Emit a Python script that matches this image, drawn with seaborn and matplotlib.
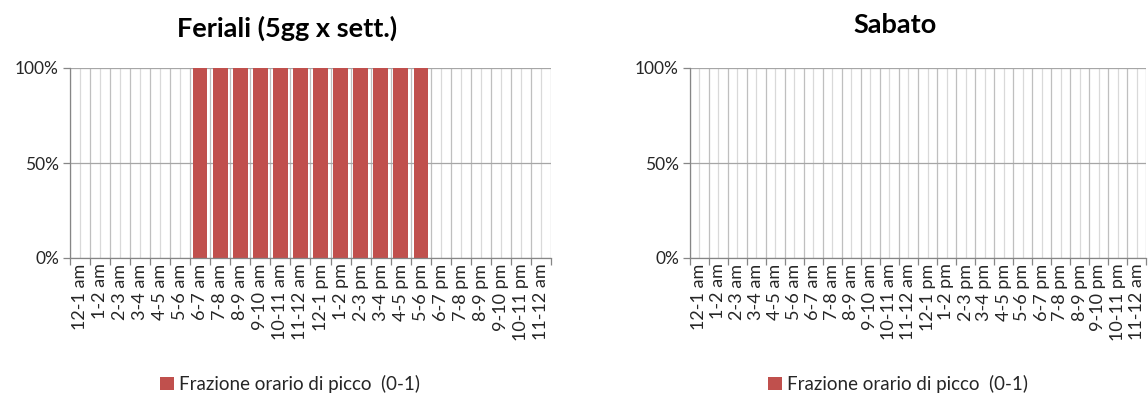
import matplotlib
matplotlib.use("Agg")
import matplotlib.pyplot as plt
from matplotlib.ticker import FixedLocator, PercentFormatter
from matplotlib.patches import Patch
import seaborn as sns
import pandas as pd

# Hourly time slots
hours = ["12-1 am", "1-2 am", "2-3 am", "3-4 am", "4-5 am", "5-6 am",
         "6-7 am", "7-8 am", "8-9 am", "9-10 am", "10-11 am", "11-12 am",
         "12-1 pm", "1-2 pm", "2-3 pm", "3-4 pm", "4-5 pm", "5-6 pm",
         "6-7 pm", "7-8 pm", "8-9 pm", "9-10 pm", "10-11 pm", "11-12 am"]

# Peak-hour fraction (0-1) per slot
feriali = [0, 0, 0, 0, 0, 0,
           1, 1, 1, 1, 1, 1,
           1, 1, 1, 1, 1, 1,
           0, 0, 0, 0, 0, 0]
sabato = [0] * 24

titles = ["Feriali (5gg x sett.)", "Sabato"]
series_name = "Frazione orario di picco  (0-1)"
bar_color = "#C0504D"

sns.set_theme(style="white")
plt.rcParams["font.family"] = ["Lato", "DejaVu Sans"]

fig = plt.figure(figsize=(11.48, 3.96), dpi=100)
axes = [fig.add_axes([70 / 1148, 138 / 396, 481 / 1148, 190 / 396]),
        fig.add_axes([690 / 1148, 138 / 396, 456 / 1148, 190 / 396])]

for ax, values in zip(axes, [feriali, sabato]):
    df = pd.DataFrame({"ora": pd.Categorical(range(len(hours))), "frazione": values})
    sns.barplot(data=df, x="ora", y="frazione", color=bar_color, width=0.72,
                saturation=1, linewidth=0, edgecolor="none", ax=ax, zorder=3)
    n = len(hours)
    ax.set_xlim(-0.5, n - 0.5)
    ax.set_ylim(0, 1)
    ax.set_xlabel("")
    ax.set_ylabel("")

    # category boundaries: outward ticks + darker grid; centres: labels + lighter grid
    ax.xaxis.set_major_locator(FixedLocator([i - 0.5 for i in range(n + 1)]))
    ax.xaxis.set_minor_locator(FixedLocator(list(range(n))))
    ax.set_xticklabels([""] * (n + 1))
    ax.set_xticklabels(hours, minor=True, rotation=90, fontsize=13, color="#262626")
    ax.tick_params(axis="x", which="major", length=5, width=0.9, color="#868686",
                   direction="out", bottom=True)
    ax.tick_params(axis="x", which="minor", length=0, pad=4, bottom=True)

    ax.yaxis.set_major_locator(FixedLocator([0, 0.5, 1]))
    ax.yaxis.set_major_formatter(PercentFormatter(1.0, decimals=0))
    ax.tick_params(axis="y", which="major", length=5, width=0.9, color="#868686",
                   direction="out", left=True, labelsize=12.5, labelcolor="#262626", pad=3)

    ax.grid(False)
    ax.grid(axis="y", which="major", color="#A6A6A6", linewidth=0.9, zorder=1)
    ax.grid(axis="x", which="major", color="#BFBFBF", linewidth=0.9, zorder=1)
    ax.grid(axis="x", which="minor", color="#D9D9D9", linewidth=0.9, zorder=1)
    ax.set_axisbelow(True)

    for side in ["top", "right"]:
        ax.spines[side].set_visible(False)
    for side in ["left", "bottom"]:
        ax.spines[side].set_color("#868686")
        ax.spines[side].set_linewidth(0.9)
        ax.spines[side].set_zorder(4)

fig.text(287 / 1148, 1 - 28 / 396, titles[0], ha="center", va="center",
         fontsize=19.5, fontweight="bold", color="black")
fig.text(895 / 1148, 1 - 25 / 396, titles[1], ha="center", va="center",
         fontsize=19.5, fontweight="bold", color="black")

for cx in [290, 898]:
    handle = Patch(facecolor=bar_color, edgecolor="none")
    fig.legend(handles=[handle], labels=[series_name], loc="center",
               bbox_to_anchor=(cx / 1148, 12 / 396), frameon=False, fontsize=13.5,
               handlelength=0.75, handleheight=0.75, handletextpad=0.3,
               labelcolor="#262626")

fig.savefig("out.png", dpi=100, facecolor="white")
